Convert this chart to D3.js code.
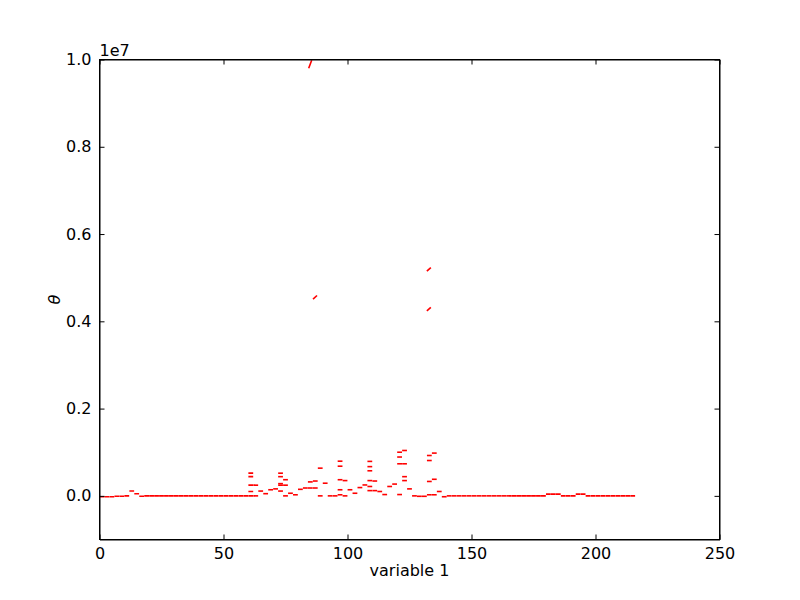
<!DOCTYPE html>
<html>
<head>
<meta charset="utf-8">
<script src="https://cdn.jsdelivr.net/npm/d3@7"></script>
<style>
  body { margin: 0; background: #fff; }
  text { font-family: "DejaVu Sans", sans-serif; }
</style>
</head>
<body>
<script>
// DATA (y values in units of 1e6)

// x positions of the samples
const xValues = [1,3,5,7,9,11,13,15,17,19,21,23,25,27,29,31,33,35,37,39,41,43,45,47,49,51,53,55,57,59,
  61,63,65,67,69,71,73,75,77,79,81,83,85,87,89,91,93,95,97,99,101,103,105,107,109,111,113,115,117,119,
  121,123,125,127,129,131,133,135,137,139,141,143,145,147,149,151,153,155,157,159,161,163,165,167,169,171,173,175,177,179,
  181,183,185,187,189,191,193,195,197,199,201,203,205,207,209,211,213,215];

// main series, one value per x
const mainValues = [-0.02,-0.02,-0.02,-0.01,-0.01,0,0.11,0.05,-0.01,0,0,0,0,0,0,0,0,0,0,0,0,0,0,0,0,0,0,0,0,0,
  0,0,0.11,0.05,0.14,0.16,0.11,0,0.06,0.025,0.15,0.18,0.18,0.18,0,0.29,0,0,0.025,0,0.14,0.06,0.19,0.25,0.12,0.12,0.10,0.03,0.215,0.27,
  0.03,0.35,0.16,0,-0.01,-0.01,0.025,0.025,0.10,-0.02,0,0,0,0,0,0,0,0,0,0,0,0,0,0,0,0,0,0,0,0,
  0.04,0.04,0.04,0,0,0,0.04,0.04,0,0,0,0,0,0,0,0,0,0];

// extra values stacked at some x
const extraX = [61,61,61,61,63,73,73,73,73,75,75,85,87,89,97,97,97,97,99,
  109,109,109,109,109,111,121,121,121,123,123,123,133,133,133,135,135];
const extraY = [0.52,0.44,0.245,0.10,0.245,0.52,0.44,0.28,0.245,0.37,0.245,0.32,0.34,0.635,0.795,0.68,0.37,0.14,0.35,
  0.79,0.67,0.575,0.35,0.215,0.34,1.0,0.89,0.735,1.04,0.735,0.44,0.925,0.81,0.33,0.98,0.38];

// far out values (steep pieces)
const spikeX = [84.96, 86.9, 132.8, 132.8];
const spikeY = [9.89, 4.55, 5.19, 4.28];

// tick labels
const xTicks = [0, 50, 100, 150, 200, 250];
const yTicks = [0, 2, 4, 6, 8, 10];

// Needed Variables
const width = 800;
const height = 600;
const margin = {top: 60, right: 80, bottom: 60, left: 100};
const fontSize = 16;

// Create svg element
d3.select('body')
  .append('svg')
  .attr('width', width)
  .attr('height', height);

var svg = d3.select('svg');

// Scales
var xScale = d3.scaleLinear()
  .domain([0, 250])
  .range([margin.left - 0.5, width - margin.right - 0.5]);

var yScale = d3.scaleLinear()
  .domain([-1, 10])
  .range([height - margin.bottom - 0.5, margin.top - 0.5]);

// clip to plot area
svg.append('clipPath')
  .attr('id', 'plotArea')
  .append('rect')
  .attr('x', xScale(0))
  .attr('y', yScale(10))
  .attr('width', xScale(250) - xScale(0))
  .attr('height', yScale(-1) - yScale(10));

var marks = svg.append('g').attr('clip-path', 'url(#plotArea)');

// all horizontal dashes
var points = xValues.map((x, i) => ({x: x, y: mainValues[i]}))
  .concat(extraX.map((x, i) => ({x: x, y: extraY[i]})));

marks.selectAll('.dash')
  .data(points)
  .join('line')
  .classed('dash', true)
  .attr('x1', d => xScale(d.x) - 2.4)
  .attr('x2', d => xScale(d.x) + 2.4)
  .attr('y1', d => yScale(d.y))
  .attr('y2', d => yScale(d.y))
  .attr('stroke', '#ff0000')
  .attr('stroke-width', 1.6);

// slanted pieces
marks.selectAll('.spike')
  .data(spikeX.map((x, i) => ({x: x, y: spikeY[i], steep: i === 0})))
  .join('line')
  .classed('spike', true)
  .attr('x1', d => xScale(d.x) - (d.steep ? 1.5 : 2))
  .attr('x2', d => xScale(d.x) + (d.steep ? 1.5 : 2))
  .attr('y1', d => yScale(d.y) + (d.steep ? 4 : 1.8))
  .attr('y2', d => yScale(d.y) - (d.steep ? 4 : 1.8))
  .attr('stroke', '#ff0000')
  .attr('stroke-width', 1.6);

// Axes (ticks pointing inward on every side)
var tickLen = 5;

svg.append('g')
  .attr('transform', 'translate(0,' + yScale(-1) + ')')
  .call(d3.axisBottom(xScale).tickValues(xTicks).tickSizeInner(-tickLen).tickSizeOuter(0).tickPadding(8).tickFormat(d3.format('d')));

svg.append('g')
  .attr('transform', 'translate(0,' + yScale(10) + ')')
  .call(d3.axisTop(xScale).tickValues(xTicks).tickSizeInner(-tickLen).tickSizeOuter(0).tickFormat(''));

svg.append('g')
  .attr('transform', 'translate(' + xScale(0) + ',0)')
  .call(d3.axisLeft(yScale).tickValues(yTicks).tickSizeInner(-tickLen).tickSizeOuter(0).tickPadding(8).tickFormat(d => (d / 10).toFixed(1)));

svg.append('g')
  .attr('transform', 'translate(' + xScale(250) + ',0)')
  .call(d3.axisRight(yScale).tickValues(yTicks).tickSizeInner(-tickLen).tickSizeOuter(0).tickFormat(''));

svg.selectAll('.domain').attr('stroke', '#000');
svg.selectAll('.tick line').attr('stroke', '#000');
svg.selectAll('.tick text')
  .attr('fill', '#000')
  .style('font-size', fontSize + 'px')
  .style('font-family', '"DejaVu Sans", sans-serif');

// frame
svg.append('rect')
  .attr('x', xScale(0))
  .attr('y', yScale(10))
  .attr('width', xScale(250) - xScale(0))
  .attr('height', yScale(-1) - yScale(10))
  .attr('fill', 'none')
  .attr('stroke', '#000')
  .attr('stroke-width', 1);

// Labels
svg.append('text')
  .attr('x', (xScale(0) + xScale(250)) / 2)
  .attr('y', yScale(-1) + 36)
  .attr('text-anchor', 'middle')
  .style('font-size', fontSize + 'px')
  .text('variable 1');

svg.append('text')
  .attr('transform', 'translate(60,' + (yScale(-1) + yScale(10)) / 2 + ') rotate(-90)')
  .attr('text-anchor', 'middle')
  .style('font-size', fontSize + 'px')
  .style('font-style', 'italic')
  .text('θ');

svg.append('text')
  .attr('x', xScale(0))
  .attr('y', yScale(10) - 4)
  .style('font-size', fontSize + 'px')
  .text('1e7');
</script>
</body>
</html>
